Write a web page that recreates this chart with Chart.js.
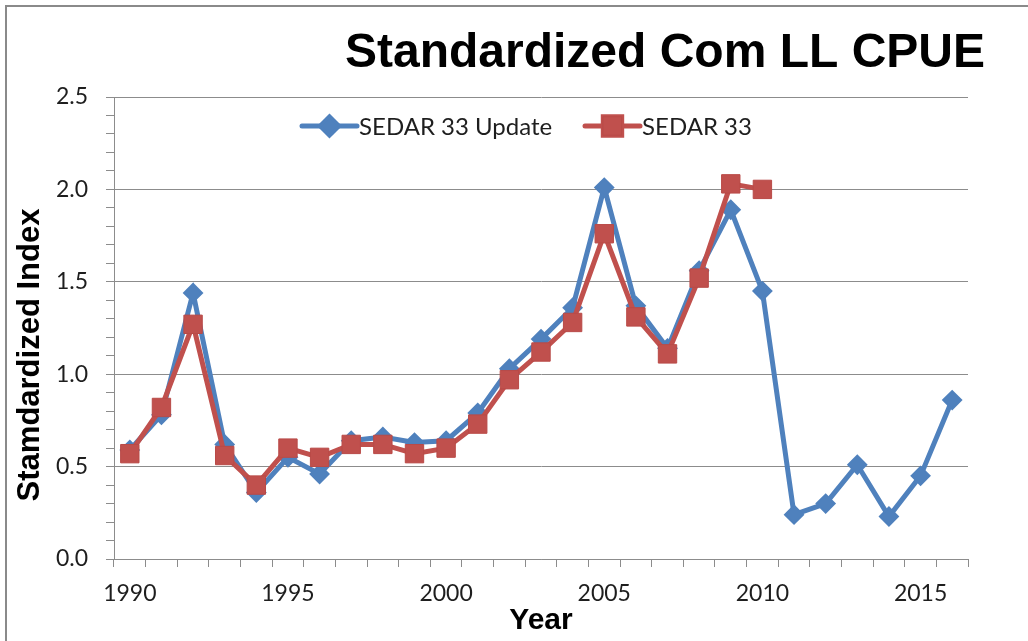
<!DOCTYPE html>
<html>
<head>
<meta charset="utf-8">
<script src="https://cdn.jsdelivr.net/npm/chart.js@4.4.1/dist/chart.umd.min.js"></script>
<style>
  body { margin: 0; background: #fff; }
  #wrap { position: relative; width: 1028px; height: 641px; overflow: hidden; }
  #frame { position: absolute; left: 5px; top: 5px; right: -10px; bottom: -10px;
           border-left: 2px solid #8a8a8a; border-top: 2px solid #8a8a8a; }
  #chart { position: absolute; left: 0; top: 0; }
</style>
</head>
<body>
<div id="wrap">
  <div id="frame"></div>
  <canvas id="chart" width="1028" height="641"></canvas>
</div>
<script>
// categories and series
const years = ['1990', '1991', '1992', '1993', '1994', '1995', '1996', '1997', '1998', '1999',
    '2000', '2001', '2002', '2003', '2004', '2005', '2006', '2007', '2008', '2009',
    '2010', '2011', '2012', '2013', '2014', '2015', '2016'];
const updateValues = [0.59, 0.78, 1.44, 0.62, 0.36, 0.55, 0.46, 0.64, 0.66, 0.63,
    0.64, 0.79, 1.03, 1.19, 1.36, 2.01, 1.37, 1.14, 1.56, 1.89,
    1.45, 0.24, 0.30, 0.51, 0.23, 0.45, 0.86];
const sedarValues = [0.57, 0.82, 1.27, 0.56, 0.40, 0.60, 0.55, 0.62, 0.62, 0.57,
    0.60, 0.73, 0.97, 1.12, 1.28, 1.76, 1.31, 1.11, 1.52, 2.03,
    2.00, null, null, null, null, null, null];
const yearLabels = ['1990', '1995', '2000', '2005', '2010', '2015'];
const seriesNames = ['SEDAR 33 Update', 'SEDAR 33'];

const BLUE = '#4f81bd';
const RED = '#c0504d';
const GRID = '#8c8c8c';
const TEXT = '#1e1e1e';
const tickFont = { family: 'Lato', size: 23 };

const isMajor = v => Math.abs(v * 2 - Math.round(v * 2)) < 1e-6;

// title, rotated y title and the in-plot legend, drawn Excel style
const excelText = {
    id: 'excelText',
    afterDraw(chart) {
        const ctx = chart.ctx;
        ctx.save();
        ctx.fillStyle = '#000';
        ctx.font = 'bold 48px "Liberation Sans"';
        ctx.textAlign = 'right';
        ctx.textBaseline = 'alphabetic';
        ctx.fillText('Standardized Com LL CPUE', 985, 67);

        ctx.translate(30, 355);
        ctx.rotate(-Math.PI / 2);
        ctx.font = 'bold 31px "Liberation Sans"';
        ctx.textAlign = 'center';
        ctx.textBaseline = 'middle';
        ctx.fillText('Stamdardized Index', 0, 0);
        ctx.restore();

        // legend
        const items = [
            { x: 302, ds: chart.data.datasets[0] },
            { x: 585, ds: chart.data.datasets[1] }
        ];
        const y = 126;
        items.forEach(it => {
            const ds = it.ds;
            ctx.save();
            ctx.strokeStyle = ds.borderColor;
            ctx.lineWidth = ds.borderWidth;
            ctx.lineCap = 'round';
            ctx.beginPath();
            ctx.moveTo(it.x, y);
            ctx.lineTo(it.x + 55, y);
            ctx.stroke();
            Chart.helpers.drawPoint(ctx, {
                pointStyle: ds.pointStyle,
                radius: ds.pointRadius,
                borderWidth: ds.pointBorderWidth,
                rotation: 0
            }, it.x + 27.5, y);
            ctx.fillStyle = ds.pointBackgroundColor;
            ctx.strokeStyle = ds.pointBorderColor;
            ctx.lineWidth = ds.pointBorderWidth;
            ctx.fill();
            ctx.stroke();
            ctx.fillStyle = TEXT;
            ctx.font = '24px Lato';
            ctx.textAlign = 'left';
            ctx.textBaseline = 'middle';
            ctx.fillText(ds.label, it.x + 57, y + 1);
            ctx.restore();
        });
    }
};

new Chart(document.getElementById('chart').getContext('2d'), {
    type: 'line',
    data: {
        labels: years,
        datasets: [{
            label: seriesNames[0],
            data: updateValues,
            borderColor: BLUE,
            backgroundColor: BLUE,
            borderWidth: 5,
            pointStyle: 'rectRot',
            pointRadius: 9,
            pointBorderWidth: 2,
            pointBackgroundColor: BLUE,
            pointBorderColor: BLUE,
            order: 2
        }, {
            label: seriesNames[1],
            data: sedarValues,
            borderColor: RED,
            backgroundColor: RED,
            borderWidth: 5,
            pointStyle: 'rect',
            pointRadius: 13,
            pointBorderWidth: 1,
            pointBackgroundColor: RED,
            pointBorderColor: '#b94a47',
            order: 1
        }]
    },
    options: {
        responsive: false,
        animation: false,
        layout: { padding: { top: 97, left: 0, right: 60, bottom: 0 } },
        plugins: {
            legend: { display: false },
            title: { display: false },
            tooltip: { enabled: false }
        },
        scales: {
            x: {
                type: 'category',
                offset: true,
                afterFit: s => { s.height = 82; },
                grid: {
                    offset: true,
                    drawOnChartArea: false,
                    color: GRID,
                    tickColor: GRID,
                    tickLength: 8
                },
                border: { color: GRID, width: 1 },
                ticks: {
                    autoSkip: false,
                    maxRotation: 0,
                    padding: 13,
                    color: TEXT,
                    font: tickFont,
                    callback: function (v) {
                        const lab = this.getLabelForValue(v);
                        return yearLabels.includes(lab) ? lab : '';
                    }
                },
                title: {
                    display: true,
                    text: 'Year',
                    color: '#000',
                    font: { family: 'Liberation Sans', size: 30, weight: 'bold' },
                    padding: { top: 0, bottom: 2 }
                }
            },
            y: {
                min: 0,
                max: 2.5,
                afterFit: s => { s.width = 114; },
                grid: {
                    color: c => isMajor(c.tick.value) ? GRID : 'rgba(0,0,0,0)',
                    tickColor: GRID,
                    tickLength: 8
                },
                border: { color: GRID, width: 1 },
                ticks: {
                    stepSize: 0.1,
                    autoSkip: false,
                    padding: 18,
                    color: TEXT,
                    font: tickFont,
                    callback: v => isMajor(v) ? v.toFixed(1) : ''
                }
            }
        }
    },
    plugins: [excelText]
});
</script>
</body>
</html>
